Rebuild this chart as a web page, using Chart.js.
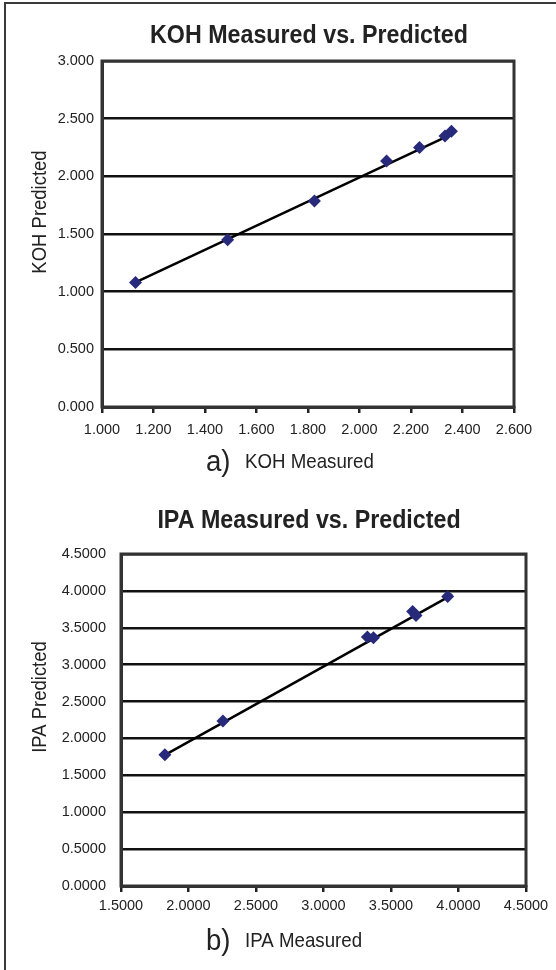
<!DOCTYPE html>
<html>
<head>
<meta charset="utf-8">
<title>KOH / IPA Measured vs. Predicted</title>
<script src="https://cdn.jsdelivr.net/npm/chart.js@4.4.1/dist/chart.umd.min.js"></script>
<style>
  html, body { margin: 0; padding: 0; background: #fff; }
  body { width: 556px; height: 970px; position: relative; overflow: hidden; }
  .frame { position: absolute; left: 4px; top: 2px; right: 0; bottom: 0;
           border-top: 2px solid #3a3a3a; border-left: 2px solid #3a3a3a; }
  .panel { position: absolute; left: 0; width: 556px; height: 485px; }
  #koh { top: 0; }
  #ipa { top: 485px; }
</style>
</head>
<body>
<div class="frame"></div>
<div class="panel" id="koh"><canvas id="chartKoh" width="556" height="485"></canvas></div>
<div class="panel" id="ipa"><canvas id="chartIpa" width="556" height="485"></canvas></div>
<script>
// a) KOH
const kohMeasured  = [1.130, 1.488, 1.825, 2.105, 2.233, 2.332, 2.357];
const kohPredicted = [1.080, 1.451, 1.786, 2.134, 2.249, 2.349, 2.390];
const kohTrendX = [1.130, 2.365];
const kohTrendY = [1.080, 2.372];
const kohXTicks = [1.0, 1.2, 1.4, 1.6, 1.8, 2.0, 2.2, 2.4, 2.6];
const kohYTicks = [0.0, 0.5, 1.0, 1.5, 2.0, 2.5, 3.0];

// b) IPA
const ipaMeasured  = [1.825, 2.255, 3.325, 3.370, 3.660, 3.685, 3.920];
const ipaPredicted = [1.780, 2.235, 3.375, 3.365, 3.720, 3.665, 3.925];
const ipaTrendX = [1.830, 3.955];
const ipaTrendY = [1.780, 3.950];
const ipaXTicks = [1.5, 2.0, 2.5, 3.0, 3.5, 4.0, 4.5];
const ipaYTicks = [0.0, 0.5, 1.0, 1.5, 2.0, 2.5, 3.0, 3.5, 4.0, 4.5];

const FONT = "'Liberation Sans Narrow', 'Arial Narrow', 'Liberation Sans', sans-serif";
const MARKER = '#27297a';

// squeezed text, the original uses a condensed face
function narrowText(ctx, text, x, y, font, squeeze, align) {
    ctx.save();
    ctx.font = font;
    ctx.textAlign = align;
    ctx.translate(x, y);
    ctx.scale(squeeze, 1);
    ctx.fillText(text, 0, 0);
    ctx.restore();
}

// frame round the plot area + title, axis title and caption text
const textPlugin = {
    id: 'panelText',
    afterDraw(chart, args, opts) {
        const ctx = chart.ctx;
        const a = chart.chartArea;
        ctx.save();
        ctx.strokeStyle = '#333';
        ctx.lineWidth = 3;
        ctx.strokeRect(a.left, a.top, a.right - a.left, a.bottom - a.top);

        ctx.fillStyle = '#222';
        ctx.textBaseline = 'alphabetic';
        narrowText(ctx, opts.title, 309, 43, 'bold 25px ' + FONT, 0.93, 'center');

        ctx.save();
        ctx.translate(46, 212);
        ctx.rotate(-Math.PI / 2);
        narrowText(ctx, opts.yTitle, 0, 0, '21px ' + FONT, 0.88, 'center');
        ctx.restore();

        narrowText(ctx, opts.letter, 206, opts.capBase + 3, '30px ' + FONT, 0.92, 'left');
        narrowText(ctx, opts.xTitle, 245, opts.capBase, '21px ' + FONT, 0.89, 'left');
        ctx.restore();
    }
};

function makeChart(id, cfg) {
    const ctx = document.getElementById(id).getContext('2d');
    const tickFont = { family: FONT, size: 14.5 };
    return new Chart(ctx, {
        type: 'scatter',
        data: {
            datasets: [
                {
                    label: 'measured vs predicted',
                    data: cfg.xs.map((x, i) => ({ x: x, y: cfg.ys[i] })),
                    pointStyle: 'rectRot',
                    pointRadius: 6.5,
                    pointHoverRadius: 6.5,
                    backgroundColor: MARKER,
                    borderColor: MARKER,
                    borderWidth: 0,
                    order: 0
                },
                {
                    label: 'trend',
                    data: cfg.tx.map((x, i) => ({ x: x, y: cfg.ty[i] })),
                    showLine: true,
                    borderColor: '#000',
                    borderWidth: 2.5,
                    pointRadius: 0,
                    order: 1
                }
            ]
        },
        options: {
            responsive: false,
            animation: false,
            layout: { padding: { left: 0, right: cfg.padRight, top: cfg.padTop, bottom: 0 } },
            plugins: {
                legend: { display: false },
                tooltip: { enabled: false },
                panelText: cfg.text
            },
            scales: {
                x: {
                    type: 'linear',
                    min: cfg.xTicks[0],
                    max: cfg.xTicks[cfg.xTicks.length - 1],
                    afterBuildTicks: s => { s.ticks = cfg.xTicks.map(v => ({ value: v })); },
                    afterFit: s => { s.height = cfg.xHeight; },
                    ticks: {
                        color: '#222',
                        font: tickFont,
                        padding: cfg.xPad,
                        maxRotation: 0,
                        callback: v => v.toFixed(cfg.digits)
                    },
                    grid: { drawOnChartArea: false, color: '#222', lineWidth: 2.5, tickLength: 6 },
                    border: { color: '#333', width: 3 }
                },
                y: {
                    type: 'linear',
                    min: cfg.yTicks[0],
                    max: cfg.yTicks[cfg.yTicks.length - 1],
                    afterBuildTicks: s => { s.ticks = cfg.yTicks.map(v => ({ value: v })); },
                    afterFit: s => { s.width = cfg.yWidth; },
                    ticks: {
                        color: '#222',
                        font: tickFont,
                        padding: cfg.yPad,
                        callback: v => v.toFixed(cfg.digits)
                    },
                    grid: { color: '#111', lineWidth: 2.5, tickLength: 0 },
                    border: { color: '#333', width: 3 }
                }
            }
        },
        plugins: [textPlugin]
    });
}

makeChart('chartKoh', {
    xs: kohMeasured, ys: kohPredicted, tx: kohTrendX, ty: kohTrendY,
    xTicks: kohXTicks, yTicks: kohYTicks, digits: 3,
    padTop: 61, padRight: 42, yWidth: 102, xHeight: 78, xPad: 8, yPad: 8,
    text: { title: 'KOH Measured vs. Predicted', yTitle: 'KOH Predicted',
            letter: 'a)', xTitle: 'KOH Measured', capBase: 468 }
});

makeChart('chartIpa', {
    xs: ipaMeasured, ys: ipaPredicted, tx: ipaTrendX, ty: ipaTrendY,
    xTicks: ipaXTicks, yTicks: ipaYTicks, digits: 4,
    padTop: 69, padRight: 30, yWidth: 121, xHeight: 84, xPad: 5, yPad: 15,
    text: { title: 'IPA Measured vs. Predicted', yTitle: 'IPA Predicted',
            letter: 'b)', xTitle: 'IPA Measured', capBase: 462 }
});
</script>
</body>
</html>
